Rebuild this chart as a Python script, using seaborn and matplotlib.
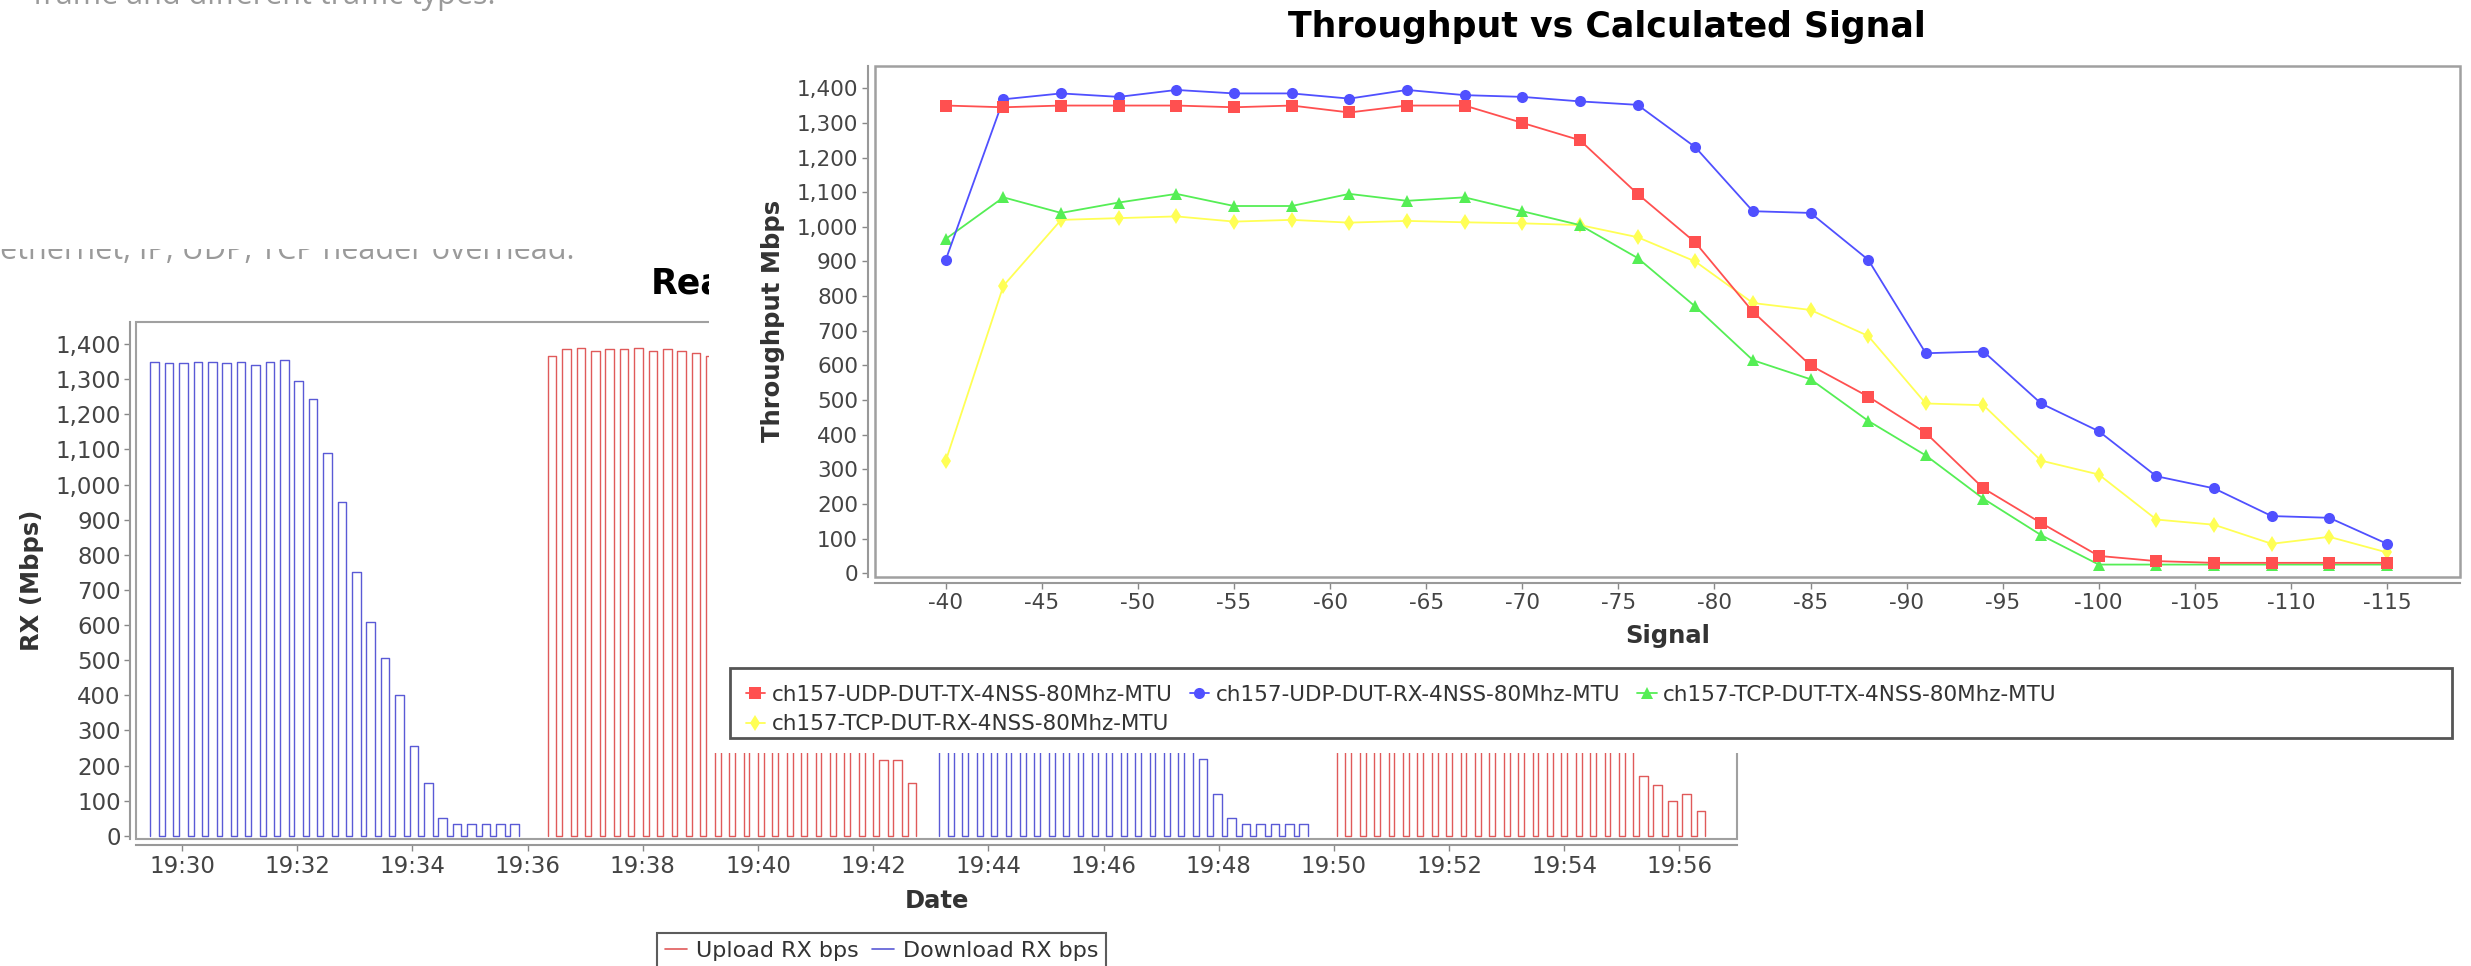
import pandas as pd
import matplotlib
matplotlib.use("Agg")
import matplotlib.pyplot as plt
import matplotlib.dates as mdates
from matplotlib.patches import Rectangle
from matplotlib.lines import Line2D
import seaborn as sns

W, H = 2471, 966

# front chart: throughput vs calculated signal
signal = [-40, -43, -46, -49, -52, -55, -58, -61, -64, -67, -70, -73, -76,
          -79, -82, -85, -88, -91, -94, -97, -100, -103, -106, -109, -112, -115]
udp_tx = [1350, 1345, 1350, 1350, 1350, 1345, 1350, 1330, 1350, 1350, 1300, 1250, 1095,
          955, 755, 600, 510, 405, 245, 145, 50, 35, 30, 30, 30, 30]
udp_rx = [905, 1368, 1385, 1375, 1395, 1385, 1385, 1370, 1395, 1380, 1375, 1362, 1352,
          1230, 1045, 1040, 905, 635, 640, 490, 410, 280, 245, 165, 160, 85]
tcp_tx = [965, 1085, 1040, 1070, 1095, 1060, 1060, 1095, 1075, 1085, 1045, 1005, 910,
          770, 615, 560, 440, 340, 215, 110, 25, 25, 25, 25, 25, 25]
tcp_rx = [325, 830, 1020, 1025, 1030, 1015, 1020, 1012, 1017, 1013, 1010, 1005, 970,
          900, 780, 760, 685, 490, 485, 325, 285, 155, 140, 85, 105, 60]
series_names = ["ch157-UDP-DUT-TX-4NSS-80Mhz-MTU", "ch157-UDP-DUT-RX-4NSS-80Mhz-MTU",
                "ch157-TCP-DUT-TX-4NSS-80Mhz-MTU", "ch157-TCP-DUT-RX-4NSS-80Mhz-MTU"]

# back chart: RX over time, pulses per test run
seg_series = ["Download RX bps", "Upload RX bps", "Download RX bps", "Upload RX bps"]
seg_start = ["19:29:27", "19:36:21", "19:43:09", "19:50:03"]
seg_end = ["19:36:21", "19:43:09", "19:50:03", "19:56:57"]
seg1_levels = [1350, 1345, 1345, 1350, 1350, 1345, 1350, 1340, 1350, 1355, 1295, 1245, 1090,
               950, 750, 610, 505, 400, 255, 150, 50, 35, 35, 35, 35, 35]
seg2_levels = [1365, 1385, 1390, 1380, 1385, 1385, 1390, 1380, 1385, 1380, 1375, 1365, 1350,
               1230, 1045, 1040, 905, 635, 640, 490, 410, 280, 245, 215, 215, 150]
seg3_levels = [965, 1085, 1040, 1070, 1095, 1060, 1060, 1095, 1075, 1085, 1045, 1005, 910,
               770, 615, 560, 440, 340, 220, 120, 50, 35, 35, 35, 35, 35]
seg4_levels = [330, 835, 1025, 1030, 1035, 1020, 1025, 1015, 1020, 1015, 1010, 1005, 975,
               905, 785, 765, 690, 495, 490, 330, 290, 170, 146, 100, 118, 70]

sns.set_theme(style="white")
plt.rcParams["font.family"] = ["DejaVu Sans"]
plt.rcParams["axes.unicode_minus"] = False

fig = plt.figure(figsize=(W / 100, H / 100), dpi=100)
fig.patch.set_facecolor("white")

# ---------------- back chart ----------------
rows = []
for k, levels in enumerate([seg1_levels, seg2_levels, seg3_levels, seg4_levels]):
    t_start = pd.Timestamp("2020-01-01 " + seg_start[k])
    t_end = pd.Timestamp("2020-01-01 " + seg_end[k])
    period = (t_end - t_start) / len(levels)
    for i, lv in enumerate(levels):
        t0 = t_start + i * period
        t1 = t0 + 0.62 * period
        for t, v in [(t0, 0), (t0, lv), (t1, lv), (t1, 0)]:
            rows.append({"time": t, "rx": v, "series": seg_series[k], "segment": k})
bg = pd.DataFrame(rows)

ax_bg = fig.add_axes([136 / W, 1 - 839 / H, (1737 - 136) / W, (839 - 322) / H], zorder=0)
bg_pal = {"Upload RX bps": "#e05a5a", "Download RX bps": "#5a5ad6"}
sns.lineplot(data=bg, x="time", y="rx", hue="series", units="segment", estimator=None,
             sort=False, palette=bg_pal, linewidth=1.0, legend=False, ax=ax_bg)
ax_bg.set_xlim(pd.Timestamp("2020-01-01 19:29:12"), pd.Timestamp("2020-01-01 19:57:00"))
ax_bg.set_ylim(-9, 1463)
ax_bg.set_yticks(range(0, 1401, 100), labels=[f"{v:,}" for v in range(0, 1401, 100)])
ax_bg.xaxis.set_major_locator(mdates.MinuteLocator(byminute=range(0, 60, 2)))
ax_bg.xaxis.set_major_formatter(mdates.DateFormatter("%H:%M"))
ax_bg.set_xlabel("Date", fontsize=17.5, fontweight="bold", color="#333333", labelpad=8)
ax_bg.set_ylabel("RX (Mbps)", fontsize=17.5, fontweight="bold", color="#333333", labelpad=8)
ax_bg.tick_params(bottom=True, left=True, length=4, width=1, color="#888888",
                  labelcolor="#444444", labelsize=16.5, pad=3)
for s in ["top", "right"]:
    ax_bg.spines[s].set_visible(False)
ax_bg.spines["left"].set_position(("outward", 4))
ax_bg.spines["bottom"].set_position(("outward", 4.5))
for s in ["left", "bottom"]:
    ax_bg.spines[s].set_color("#999999")
    ax_bg.spines[s].set_linewidth(1.5)
ax_bg.add_patch(Rectangle((0, 0), 1, 1, transform=ax_bg.transAxes, fill=False,
                          edgecolor="#a0a0a0", linewidth=1.5, clip_on=False))
# title of the back screenshot, mostly hidden by the front one
ax_bg.text(651 / W, 1 - 284 / H, "Real", transform=fig.transFigure,
           fontsize=25, fontweight="bold", color="black", ha="left", va="center")
bg_handles = [Line2D([], [], color=bg_pal["Upload RX bps"], lw=1.2),
              Line2D([], [], color=bg_pal["Download RX bps"], lw=1.2)]
leg_bg = ax_bg.legend(bg_handles, ["Upload RX bps", "Download RX bps"], loc="upper left",
                      bbox_to_anchor=(646 / W, 1 - 922 / H), bbox_transform=fig.transFigure,
                      ncol=2, fontsize=16, frameon=True, fancybox=False, handlelength=1.0,
                      handletextpad=0.4, columnspacing=0.6, borderpad=0.35,
                      labelcolor="#333333")
leg_bg.get_frame().set_edgecolor("#333333")
leg_bg.get_frame().set_linewidth(1.5)

# document text around the screenshots
fig.text(33 / W, 1 - 4 / H, "frame and different traffic types.", fontsize=22,
         family=["Open Sans", "DejaVu Sans"], color="#9a9a9a", ha="left", va="baseline")
fig.text(0, 1 - 259 / H, "ethernet, IP, UDP, TCP header overhead.", fontsize=22,
         family=["Open Sans", "DejaVu Sans"], color="#9a9a9a", ha="left", va="baseline",
         zorder=2)
fig.patches.append(Rectangle((0, 1 - 249 / H), 700 / W, 60 / H, transform=fig.transFigure,
                             facecolor="white", edgecolor="none", zorder=3))

# white panel of the front screenshot
fig.patches.append(Rectangle((709 / W, 1 - 753 / H), 1 - 709 / W, 753 / H,
                             transform=fig.transFigure, facecolor="white",
                             edgecolor="none", zorder=5))

# ---------------- front chart ----------------
fg = pd.DataFrame({
    "signal": signal * 4,
    "mbps": udp_tx + udp_rx + tcp_tx + tcp_rx,
    "series": [n for n in series_names for _ in signal],
})
colors = dict(zip(series_names, ["#ff5050", "#5050ff", "#55ee55", "#ffff55"]))
markers = dict(zip(series_names, ["s", "o", "^", "d"]))

ax_fg = fig.add_axes([874.7 / W, 1 - 576.7 / H, (2460 - 874.7) / W, (576.7 - 65.7) / H],
                     zorder=10)
ax_fg.set_facecolor("white")
sns.lineplot(data=fg, x="signal", y="mbps", hue="series", style="series",
             hue_order=series_names[::-1], style_order=series_names[::-1],
             palette=colors, markers=markers, dashes=False, markersize=8,
             markeredgewidth=0, linewidth=1.3, legend=False, ax=ax_fg)
ax_fg.set_xlim(-36.3, -118.8)
ax_fg.set_ylim(-10, 1465)
xt = list(range(-40, -116, -5))
ax_fg.set_xticks(xt, labels=[str(v) for v in xt])
ax_fg.set_yticks(range(0, 1401, 100), labels=[f"{v:,}" for v in range(0, 1401, 100)])
ax_fg.set_xlabel("Signal", fontsize=17.5, fontweight="bold", color="#333333", labelpad=8)
ax_fg.set_ylabel("Throughput Mbps", fontsize=17.5, fontweight="bold", color="#333333",
                 labelpad=8)
ax_fg.tick_params(bottom=True, left=True, length=4, width=1, color="#888888",
                  labelcolor="#444444", labelsize=15.5, pad=3)
for s in ["top", "right"]:
    ax_fg.spines[s].set_visible(False)
ax_fg.spines["left"].set_position(("outward", 5))
ax_fg.spines["bottom"].set_position(("outward", 4.5))
for s in ["left", "bottom"]:
    ax_fg.spines[s].set_color("#999999")
    ax_fg.spines[s].set_linewidth(1.5)
ax_fg.add_patch(Rectangle((0, 0), 1, 1, transform=ax_fg.transAxes, fill=False,
                          edgecolor="#a0a0a0", linewidth=1.8, clip_on=False))
ax_fg.text(1607 / W, 1 - 27 / H, "Throughput vs Calculated Signal", transform=fig.transFigure,
           fontsize=25, fontweight="bold", color="black", ha="center", va="center")

# legend of the front chart, row-major order for 3 columns
fg_handles = [Line2D([], [], color=colors[n], marker=markers[n], markersize=8,
                     markeredgewidth=0, lw=1.3) for n in series_names]
order = [0, 3, 1, 2]
ax_fg.legend([fg_handles[i] for i in order], [series_names[i] for i in order],
             loc="upper left", bbox_to_anchor=(735 / W, 1 - 674 / H),
             bbox_transform=fig.transFigure, ncol=3, fontsize=15.5, frameon=False,
             handlelength=0.9, handletextpad=0.3, columnspacing=0.8, borderpad=0,
             labelspacing=0.45, labelcolor="#333333")
ax_fg.add_artist(Rectangle((730 / W, 1 - 738 / H), (2452 - 730) / W, 70 / H,
                           transform=fig.transFigure, fill=False, edgecolor="#555555",
                           linewidth=2, clip_on=False))

fig.savefig("out.png", dpi=100, facecolor="white")
